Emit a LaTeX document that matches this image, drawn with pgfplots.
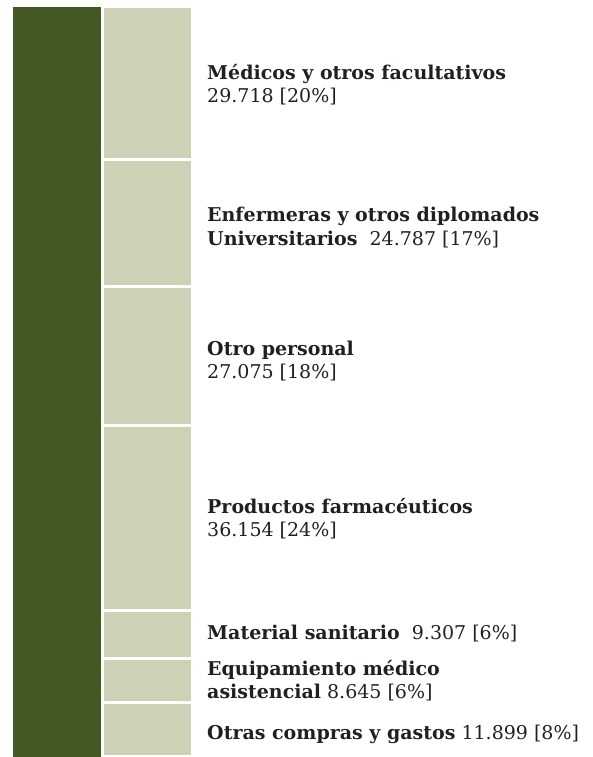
\documentclass[border=0pt]{standalone}
\usepackage{pgfplots}
\pgfplotsset{compat=1.18}
\usepackage{fontspec}
\setmainfont{DejaVu Serif}
\definecolor{darkg}{RGB}{67,88,34}
\definecolor{lightg}{RGB}{205,209,182}
\definecolor{txt}{RGB}{35,31,32}
\begin{document}
\begin{tikzpicture}[x=1pt,y=1pt]
\useasboundingbox (0,0) rectangle (592,757);
% dark total bar
\begin{axis}[at={(0,0)}, anchor=south west, scale only axis, width=592pt, height=757pt,
  xmin=0, xmax=592, ymin=1270, ymax=148950, hide axis]
\addplot[ybar, bar width=88, fill=darkg, draw=none] coordinates {(57,147585)};
\end{axis}
% stacked components
\begin{axis}[at={(0,0)}, anchor=south west, scale only axis, width=592pt, height=757pt,
  xmin=0, xmax=592, ymin=1270, ymax=148950, hide axis, ybar stacked, bar width=90]
\addplot[fill=lightg, draw=white, line width=3pt] coordinates {(147.5,11899)};
\addplot[fill=lightg, draw=white, line width=3pt] coordinates {(147.5,8645)};
\addplot[fill=lightg, draw=white, line width=3pt] coordinates {(147.5,9307)};
\addplot[fill=lightg, draw=white, line width=3pt] coordinates {(147.5,36154)};
\addplot[fill=lightg, draw=white, line width=3pt] coordinates {(147.5,27075)};
\addplot[fill=lightg, draw=white, line width=3pt] coordinates {(147.5,24787)};
\addplot[fill=lightg, draw=white, line width=3pt] coordinates {(147.5,29718)};
\end{axis}
% labels (pixel coordinate system)
\begin{axis}[at={(0,0)}, anchor=south west, scale only axis, width=592pt, height=757pt,
  xmin=0, xmax=592, ymin=0, ymax=757, y dir=reverse, hide axis, clip=false]
\tikzset{lab/.style={anchor=base west, inner sep=0pt, text=txt, font=\fontsize{19}{23}\selectfont}}
\node[lab] at (axis cs:207,80) {\textbf{Médicos y otros facultativos}};
\node[lab] at (axis cs:207,103) {29.718 [20\%]};
\node[lab] at (axis cs:207,222) {\textbf{Enfermeras y otros diplomados}};
\node[lab] at (axis cs:207,245) {\textbf{Universitarios}\ \ 24.787 [17\%]};
\node[lab] at (axis cs:207,355) {\textbf{Otro personal}};
\node[lab] at (axis cs:207,378) {27.075 [18\%]};
\node[lab] at (axis cs:207,513) {\textbf{Productos farmacéuticos}};
\node[lab] at (axis cs:207,536) {36.154 [24\%]};
\node[lab] at (axis cs:207,639) {\textbf{Material sanitario}\ \ 9.307 [6\%]};
\node[lab] at (axis cs:207,675) {\textbf{Equipamiento médico}};
\node[lab] at (axis cs:207,698) {\textbf{asistencial} 8.645 [6\%]};
\node[lab] at (axis cs:207,739) {\textbf{Otras compras y gastos} 11.899 [8\%]};
\end{axis}
\end{tikzpicture}
\end{document}
